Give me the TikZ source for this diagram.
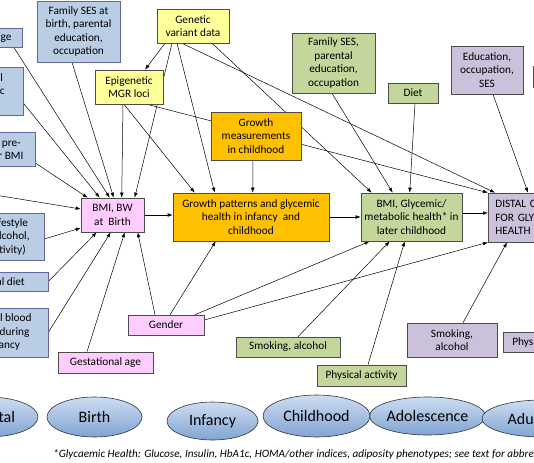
\documentclass[tikz,border=0pt]{standalone}
\usepackage{fontspec}
\setmainfont{Carlito}
\usetikzlibrary{shapes.geometric,arrows.meta}

\definecolor{bluefill}{RGB}{185,205,229}
\definecolor{yellowfill}{RGB}{255,255,153}
\definecolor{orangefill}{RGB}{255,192,0}
\definecolor{pinkfill}{RGB}{255,204,255}
\definecolor{greenfill}{RGB}{195,214,155}
\definecolor{purplefill}{RGB}{204,193,218}
\definecolor{stagetop}{RGB}{205,221,242}
\definecolor{stagebot}{RGB}{128,164,210}

\newcommand{\boxfont}{\fontsize{11.3}{13.5}\selectfont}
\newcommand{\stagefont}{\fontsize{16}{19}\selectfont}
\newcommand{\notefont}{\fontsize{11.2}{13}\selectfont\itshape}

\pgfdeclarelayer{back}
\pgfsetlayers{back,main}

\tikzset{
  box/.style={draw=black!70, line width=0.6pt, align=center, inner sep=1pt, font=\boxfont},
  bluebox/.style={box, fill=bluefill, draw=black!65!blue!60},
  yellowbox/.style={box, fill=yellowfill},
  orangebox/.style={box, fill=orangefill},
  pinkbox/.style={box, fill=pinkfill},
  greenbox/.style={box, fill=greenfill},
  purplebox/.style={box, fill=purplefill},
  stage/.style={ellipse, draw=black!80, line width=0.6pt, top color=stagetop, bottom color=stagebot, inner sep=0pt, font=\stagefont},
  link/.style={-{Latex[length=5pt,width=3.6pt]}, line width=0.5pt}
}

\begin{document}
\begin{tikzpicture}[x=1pt,y=-1pt]
    \useasboundingbox (0,0) rectangle (534,462);
    \clip (0,0) rectangle (534,462);

    % Maternal factors (left column)
    \node[bluebox, minimum width=83pt, minimum height=19pt] (matage) at (-19,37.5) {Maternal age};
    \node[bluebox, minimum width=82pt, minimum height=48pt] (matmeta) at (-18,91) {Maternal\\metabolic\\health};
    \node[bluebox, minimum width=92pt, minimum height=34pt] (matprebmi) at (-11,149) {Maternal pre-\\and father BMI};
    \node[bluebox, minimum width=112pt, minimum height=47pt] (matlife) at (-12,236.5) {Maternal lifestyle\\(smoking, alcohol,\\physical activity)};
    \node[bluebox, minimum width=109pt, minimum height=19pt] (matdiet) at (-6.5,281.5) {Maternal diet};
    \node[bluebox, minimum width=104pt, minimum height=49pt] (matblood) at (-4,332.5) {Maternal blood\\glucose during\\pregnancy};
    \coordinate (offleft) at (-5,195);

    % Top row
    \node[bluebox, minimum width=83pt, minimum height=61pt] (famsesbirth) at (78.5,31.5) {Family SES at\\birth, parental\\education,\\occupation};
    \node[yellowbox, minimum width=72pt, minimum height=34pt] (genetic) at (193,26) {Genetic\\variant data};
    \node[yellowbox, minimum width=68pt, minimum height=34pt] (epigen) at (129,87) {Epigenetic\\MGR loci};
    \node[orangebox, minimum width=90pt, minimum height=48pt] (growthmeas) at (256,136) {Growth\\measurements\\in childhood};
    \node[greenbox, minimum width=83pt, minimum height=60pt] (famsesgreen) at (333.5,63) {Family SES,\\parental\\education,\\occupation};
    \node[greenbox, minimum width=50pt, minimum height=20pt] (diet) at (413,93) {Diet};
    \node[purplebox, minimum width=72pt, minimum height=48pt] (edu) at (487,70) {Education,\\occupation,\\SES};
    \node[purplebox, anchor=west, minimum width=70pt, minimum height=21pt] (rightbox) at (533,76.5) {};

    % Main chain
    \node[pinkbox, minimum width=63pt, minimum height=34pt] (bmibw) at (112.5,215) {BMI, BW\\at\ \ Birth};
    \node[orangebox, minimum width=156pt, minimum height=48pt] (growthpat) at (251,217) {Growth patterns and glycemic\\health in infancy\ \ and\\childhood};
    \node[greenbox, minimum width=101pt, minimum height=48pt] (bmiglyc) at (411.5,217) {BMI, Glycemic/\\metabolic health* in\\later childhood};
    \node[purplebox, anchor=west, text width=110pt, align=left, inner xsep=7pt, minimum height=49pt] (distal) at (488,217.5) {DISTAL OUTCOMES\\FOR GLYCEMIC\\HEALTH};

    % Bottom factors
    \node[pinkbox, minimum width=76pt, minimum height=20pt] (gender) at (166,325) {Gender};
    \node[pinkbox, minimum width=95pt, minimum height=21pt] (gestage) at (105.5,362.5) {Gestational age};
    \node[greenbox, minimum width=104pt, minimum height=20pt] (smokgreen) at (288,347) {Smoking, alcohol};
    \node[greenbox, minimum width=89pt, minimum height=21pt] (physgreen) at (361.5,375.5) {Physical activity};
    \node[purplebox, minimum width=90pt, minimum height=34pt] (smokpurple) at (452,340) {Smoking,\\alcohol};
    \node[purplebox, anchor=west, minimum width=90pt, minimum height=20pt] (physpurple) at (503,342) {Physical activity};

    % Life stages
    \node[stage, minimum width=100pt, minimum height=40pt] (prenatal) at (-12,417) {Prenatal};
    \node[stage, minimum width=95pt, minimum height=40pt] (birth) at (94.5,417) {Birth};
    \node[stage, minimum width=91pt, minimum height=38pt] (infancy) at (212.5,421) {Infancy};
    \node[stage, minimum width=107pt, minimum height=42pt] (childhood) at (316.5,416) {Childhood};
    \node[stage, minimum width=105pt, minimum height=38pt] (adolescence) at (427.5,416) {Adolescence};
    \node[stage, minimum width=120pt, minimum height=37pt] (adulthood) at (542,418.5) {Adulthood};

    \node[anchor=west, inner sep=0pt, font=\notefont] (footnote) at (53,454) {*Glycaemic Health: Glucose, Insulin, HbA1c, HOMA/other indices, adiposity phenotypes; see text for abbreviations};

    % Connectors
    \begin{pgfonlayer}{back}
    \draw[link] ([xshift=-9pt]matage.south east) -- ([xshift=29pt]bmibw.north west);
    \draw[link] ([yshift=-12pt]matmeta.east) -- ([xshift=19pt]bmibw.north west);
    \draw[link] ([yshift=-14pt]matprebmi.east) -- ([xshift=7pt]bmibw.north west);
    \draw[link] (offleft) -- ([yshift=6pt]bmibw.west);
    \draw[link] ([yshift=-2.5pt]matlife.east) -- ([yshift=-13pt]bmibw.west);
    \draw[link] (matdiet.east) -- ([xshift=16pt]bmibw.south west);
    \draw[link] (matblood.east) -- ([xshift=30pt]bmibw.south west);
    \draw[link] ([xshift=-18.5pt]gestage.north) -- ([xshift=44pt]bmibw.south west);
    \draw[link] ([xshift=-11pt]gender.north) -- ([xshift=57pt]bmibw.south west);
    \draw[link] ([xshift=-6.5pt]famsesbirth.south) -- ([xshift=33pt]bmibw.north west);
    \draw[link] ([xshift=-6pt]epigen.south) -- ([xshift=41pt]bmibw.north west);
    \draw[link] ([xshift=-21pt]genetic.south) -- ([xshift=54pt]bmibw.north west);
    \draw[link] ([xshift=-28pt]genetic.south) -- ([xshift=16pt]epigen.north);
    \draw[link] ([xshift=-16pt]genetic.south) -- ([xshift=42pt]growthpat.north west);
    \draw[link] ([xshift=-5pt]epigen.south) -- ([xshift=22pt]growthpat.north west);
    \draw[link] ([xshift=18pt]epigen.south) -- (distal.north west);
    \draw[link] ([xshift=-11pt]genetic.south) -- ([xshift=7pt]distal.north west);
    \draw[link] ([xshift=19pt]genetic.south) -- ([xshift=11pt]bmiglyc.north west);
    \draw[link] ([xshift=-3pt]growthmeas.south) -- ([xshift=80pt]growthpat.north west);
    \draw[link] ([xshift=-1.5pt]famsesgreen.south) -- ([xshift=32pt]bmiglyc.north west);
    \draw[link] ([xshift=2pt]diet.south) -- ([xshift=49pt]bmiglyc.north west);
    \draw[link] ([xshift=6pt]edu.south) -- ([xshift=40pt]distal.north west);
    \draw[link] (bmibw.east) -- (bmibw.east -| growthpat.west);
    \draw[link] (growthpat.east) -- (bmiglyc.west);
    \draw[link] ([yshift=4pt]bmiglyc.east) -- ([yshift=4pt]bmiglyc.east -| distal.west);
    \draw[link] ([xshift=4pt]gender.north) -- ([xshift=43pt]growthpat.south west);
    \draw[link] ([xshift=29pt]gender.north) -- ([xshift=9pt]bmiglyc.south west);
    \draw[link] ([yshift=5pt]gender.east) -- (distal.south west);
    \draw[link] ([xshift=10pt]smokgreen.north) -- ([xshift=29pt]bmiglyc.south west);
    \draw[link] ([xshift=6.5pt]physgreen.north) -- ([xshift=44pt]bmiglyc.south west);
    \draw[link] ([xshift=11pt]smokpurple.north) -- ([xshift=19pt]distal.south west);
    \end{pgfonlayer}

\end{tikzpicture}
\end{document}
